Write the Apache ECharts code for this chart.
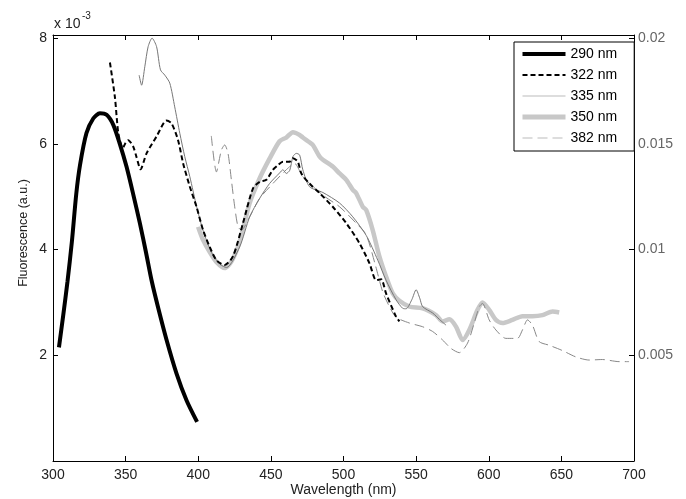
<!DOCTYPE html>
<html>
<head>
<meta charset="utf-8">
<script src="https://cdn.jsdelivr.net/npm/echarts@6/dist/echarts.min.js"></script>
<style>
  html, body { margin: 0; padding: 0; background: #fff; }
  #chart { width: 686px; height: 499px; }
</style>
</head>
<body>
<div id="chart"></div>
<script>
// emission spectra, values in units of 1e-3 (left axis)
var wl290 = [304.1, 307, 310, 313, 316, 318.6, 323, 327.7, 332.3, 336.9, 341.5, 346, 350.6, 355.2, 359.8, 364, 368, 372.4, 378.1, 385, 391.9, 399.2];
var fl290 = [2.15, 2.75, 3.4, 4.15, 5.05, 5.6, 6.2, 6.48, 6.58, 6.55, 6.36, 6.0, 5.57, 5.05, 4.5, 3.95, 3.4, 2.9, 2.3, 1.66, 1.15, 0.74];

var wl322 = [339.2, 342.6, 345, 348, 350, 351.8, 355.2, 357.5, 360.3, 364.4, 371.3, 378.1, 381.6, 386.1, 389.6, 394.2, 398.8, 403.3, 407.9, 412.5, 418.2, 423.9, 430.8, 437.7, 442.3, 446.9, 451.4, 455, 458.3, 462.9, 465.2, 468.6, 471, 476.6, 483.5, 492.6, 501.9, 511, 517.9, 522.5, 525.9, 529.3, 536.2, 538.5];
var fl322 = [7.54, 6.89, 6.2, 5.92, 6.02, 6.07, 5.95, 5.75, 5.52, 5.82, 6.14, 6.44, 6.39, 6.07, 5.63, 5.19, 4.81, 4.37, 4.05, 3.8, 3.71, 3.87, 4.5, 5.16, 5.28, 5.32, 5.51, 5.6, 5.66, 5.66, 5.73, 5.66, 5.44, 5.25, 5.07, 4.81, 4.5, 4.12, 3.74, 3.42, 3.44, 3.17, 2.73, 2.64];

var wl335 = [359.3, 361, 363.2, 365.5, 368.2, 371.3, 374, 377, 380.4, 383.8, 387.3, 390.7, 394.2, 399, 404, 410, 415, 419.5, 428.5, 435.4, 442.3, 449.1, 456, 458.3, 460.6, 463, 465.2, 467.5, 469.8, 472, 476.6, 485.8, 497.3, 506.4, 515.6, 523.6, 529.3, 536.2, 540.7, 543.1, 547, 550, 552.5, 554.5, 561.4, 566, 570.6];
var fl335 = [7.3, 7.11, 7.46, 7.84, 8.0, 7.84, 7.4, 7.3, 7.15, 6.7, 6.2, 5.76, 5.38, 4.8, 4.3, 3.9, 3.72, 3.66, 4.05, 4.62, 4.97, 5.25, 5.45, 5.51, 5.44, 5.5, 5.76, 5.82, 5.79, 5.51, 5.19, 5.08, 4.88, 4.62, 4.27, 3.8, 3.42, 3.05, 2.89, 2.88, 3.05, 3.24, 3.08, 2.92, 2.8, 2.68, 2.57];

var wl350 = [399.9, 403, 408, 413, 418.2, 423, 428.5, 435.4, 442.3, 449.1, 456, 460.6, 465.2, 469.8, 472, 476.6, 478.9, 483.5, 485.8, 492.6, 497.3, 501.9, 506.4, 508.7, 513.3, 515.6, 520.1, 524.7, 529.3, 533.9, 538.5, 545.4, 554.5, 563.7, 568.2, 572.9, 577.5, 582, 586.6, 592.3, 595.7, 600.3, 604.9, 609.5, 616.3, 623.2, 630.1, 637, 643.9, 648.5];
var fl350 = [4.43, 4.2, 3.95, 3.75, 3.65, 3.78, 4.15, 4.88, 5.35, 5.72, 6.05, 6.12, 6.22, 6.17, 6.12, 6.03, 5.98, 5.76, 5.7, 5.57, 5.44, 5.32, 5.13, 5.07, 4.81, 4.75, 4.37, 3.87, 3.49, 3.17, 3.03, 2.92, 2.89, 2.76, 2.64, 2.68, 2.54, 2.29, 2.48, 2.86, 3.0, 2.86, 2.67, 2.61, 2.67, 2.74, 2.74, 2.76, 2.83, 2.81];

var wl382 = [409, 412.5, 415.9, 418.2, 420.5, 422.8, 425.1, 427.4, 429.7, 435.4, 442.3, 451.4, 460.6, 466.3, 472, 485.8, 497.3, 508.7, 515.6, 522, 527, 532, 536.2, 545.4, 554.5, 561.4, 568.2, 574, 579.7, 585.4, 590, 593.5, 595.7, 600.3, 604.9, 611.8, 619.8, 623.2, 626.7, 630.1, 634.7, 641.6, 650.7, 659.9, 669.1, 678.2, 689.7, 696.6];
var fl382 = [6.15, 5.47, 5.88, 5.98, 5.82, 5.32, 4.81, 4.43, 4.37, 4.62, 4.97, 5.25, 5.51, 5.63, 5.38, 5.03, 4.81, 4.5, 4.28, 3.7, 3.2, 2.9, 2.72, 2.61, 2.54, 2.45, 2.29, 2.13, 2.05, 2.23, 2.61, 2.92, 2.98, 2.67, 2.48, 2.32, 2.32, 2.48, 2.67, 2.57, 2.26, 2.19, 2.09, 1.97, 1.91, 1.92, 1.88, 1.88];

var xTicks = [300, 350, 400, 450, 500, 550, 600, 650, 700];
var leftTicks = [2, 4, 6, 8];
var rightTicks = [0.005, 0.01, 0.015, 0.02];

var font = 'Liberation Sans, Arial, Helvetica, sans-serif';

function zip(xs, ys) {
    return xs.map(function (x, i) { return [x, ys[i]]; });
}

function near(v, list) {
    for (var i = 0; i < list.length; i++) {
        if (Math.abs(v - list[i]) < 1e-9) return list[i];
    }
    return null;
}

function line(name, xs, ys, color, width, type, z) {
    return {
        name: name,
        type: 'line',
        data: zip(xs, ys),
        symbol: 'none',
        smooth: 0.25,
        z: z,
        lineStyle: { color: color, width: width, type: type },
        itemStyle: { color: color },
        emphasis: { disabled: true }
    };
}

// legend entries: line only, hide the default marker dot
function legendItem(name, width, color) {
    var ls = { width: width };
    if (color) ls.color = color;
    return { name: name, lineStyle: ls, itemStyle: { color: 'transparent', borderWidth: 0, opacity: 0 } };
}

var chart = echarts.init(document.getElementById('chart'));

var tickStyle = { show: true, inside: true, length: 5, lineStyle: { color: '#000', width: 1 } };
var axisLine = { show: true, onZero: false, lineStyle: { color: '#000', width: 1 } };

chart.setOption({
    animation: false,
    backgroundColor: '#fff',
    grid: { left: 53, right: 52, top: 35, bottom: 38, containLabel: false, outerBoundsMode: 'none' },
    xAxis: [{
        type: 'value', min: 300, max: 700, interval: 50, position: 'bottom',
        axisLine: axisLine, axisTick: tickStyle, splitLine: { show: false },
        axisLabel: {
            color: '#222', fontSize: 14, fontFamily: font, margin: 7,
            formatter: function (v) { var t = near(v, xTicks); return t === null ? '' : String(t); }
        },
        name: 'Wavelength (nm)', nameLocation: 'middle', nameGap: 22, nameMoveOverlap: false,
        nameTextStyle: { color: '#222', fontSize: 14, fontFamily: font }
    }, {
        type: 'value', min: 300, max: 700, interval: 50, position: 'top',
        axisLine: axisLine, axisTick: tickStyle, splitLine: { show: false },
        axisLabel: { show: false }
    }],
    yAxis: [{
        type: 'value', min: 0, max: 8.06, interval: 2, position: 'left',
        axisLine: axisLine, axisTick: tickStyle, splitLine: { show: false },
        axisLabel: {
            color: '#222', fontSize: 14, fontFamily: font, margin: 6,
            formatter: function (v) { var t = near(v, leftTicks); return t === null ? '' : String(t); }
        },
        name: 'Fluorescence (a.u.)', nameLocation: 'middle', nameGap: 23, nameMoveOverlap: false,
        nameTextStyle: { color: '#222', fontSize: 12.5, fontFamily: font, padding: [0, 0, 0, 30] }
    }, {
        type: 'value', min: 0, max: 0.02015, interval: 0.005, position: 'right',
        axisLine: axisLine, axisTick: tickStyle, splitLine: { show: false },
        axisLabel: {
            color: '#666', fontSize: 14, fontFamily: font, margin: 4,
            formatter: function (v) { var t = near(v, rightTicks); return t === null ? '' : String(t); }
        }
    }],
    legend: {
        orient: 'vertical', left: 514, top: 42,
        itemWidth: 43, itemHeight: 14, itemGap: 7,
        padding: [5, 17, 6, 6],
        backgroundColor: '#fff', borderColor: '#000', borderWidth: 1, borderRadius: 0,
        selectedMode: false,
        textStyle: { color: '#000', fontSize: 14, fontFamily: font },
        data: [
            legendItem('290 nm', 4),
            legendItem('322 nm', 2),
            legendItem('335 nm', 1, '#bbb'),
            legendItem('350 nm', 5),
            legendItem('382 nm', 1, '#bbb')
        ]
    },
    graphic: [
        { type: 'text', left: 54, top: 17, style: { text: 'x 10', fontSize: 14, fontFamily: font, fill: '#222' } },
        { type: 'text', left: 82, top: 11, style: { text: '-3', fontSize: 10, fontFamily: font, fill: '#222' } }
    ],
    series: [
        line('290 nm', wl290, fl290, '#000', 4, 'solid', 6),
        line('322 nm', wl322, fl322, '#000', 2, [5, 3], 5),
        line('335 nm', wl335, fl335, '#777', 1, 'solid', 4),
        line('350 nm', wl350, fl350, '#c8c8c8', 4.5, 'solid', 2),
        line('382 nm', wl382, fl382, '#888', 1, [10, 5], 3)
    ]
});
</script>
</body>
</html>
